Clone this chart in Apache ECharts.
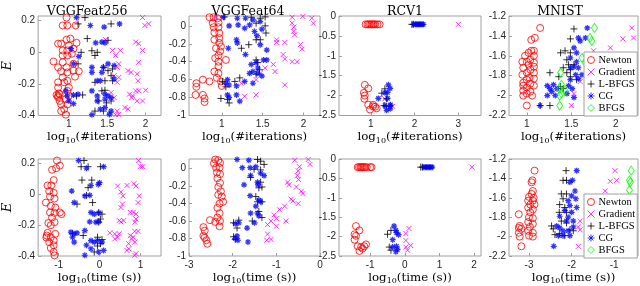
<!DOCTYPE html>
<html><head><meta charset="utf-8">
<script src="https://cdn.jsdelivr.net/npm/echarts@6/dist/echarts.min.js"></script>
<style>html,body{margin:0;padding:0;background:#fff}#c{width:640px;height:286px}</style>
</head><body><div id="c"></div>
<script>
// ---------- data ----------
const seriesNames = ['Newton','Gradient','L-BFGS','CG','BFGS'];
const titles = ['VGGFeat256','VGGFeat64','RCV1','MNIST'];

// panel 1: VGGFeat256, log10(#iterations)
const newton1 = [[0.97,0.22],[0.92,0.17],[0.98,0.17],[1.09,0.17],[0.90,0.055],[0.97,0.08],[1.02,0.087],[0.86,0.055],[1.0,0.044],[1.10,0.06],[0.92,0.012],[0.98,0.012],[1.06,0.023],[0.92,-0.02],[0.98,-0.02],[1.04,-0.009],[0.80,-0.058],[0.92,-0.063],[0.86,-0.095],[0.97,-0.095],[1.06,-0.073],[0.90,-0.12],[0.98,-0.127],[1.06,-0.116],[1.13,-0.12],[0.92,-0.159],[0.98,-0.18],[1.08,-0.154],[0.86,-0.19],[0.94,-0.19],[1.0,-0.223],[0.86,-0.223],[0.88,-0.265],[0.98,-0.244],[0.86,-0.276],[0.88,-0.308],[0.96,-0.297],[1.0,-0.276],[0.90,-0.33],[0.98,-0.33],[0.90,-0.372],[0.96,-0.395],[0.94,-0.36],[0.84,-0.27],[0.86,-0.285],[0.87,-0.26]];
const grad1 = [[1.96,0.22],[1.99,0.17],[2.04,0.18],[1.48,0.08],[1.87,0.065],[1.91,0.055],[1.57,0.012],[1.67,0.012],[1.96,0.012],[1.61,-0.02],[1.65,-0.073],[1.63,-0.095],[1.91,-0.063],[1.77,-0.116],[1.81,-0.127],[1.89,-0.137],[1.59,-0.148],[1.65,-0.159],[1.63,-0.19],[1.90,-0.18],[1.87,-0.244],[2.0,-0.24],[1.91,-0.244],[1.55,-0.255],[1.79,-0.265],[1.83,-0.276],[1.82,-0.287],[1.59,-0.287],[1.89,-0.308],[1.96,-0.308],[1.73,-0.35],[1.77,-0.36],[1.63,-0.372],[1.65,-0.393],[1.61,-0.395]];
const lbfgs1 = [[1.21,0.22],[1.12,0.18],[1.55,0.18],[1.24,0.087],[1.51,0.076],[1.16,0.0],[1.30,0.01],[1.37,0.0],[1.34,-0.02],[1.12,-0.073],[1.45,-0.095],[1.51,-0.116],[1.57,-0.105],[1.55,-0.148],[1.34,-0.19],[1.47,-0.18],[1.57,-0.18],[1.18,-0.27],[1.10,-0.276],[1.43,-0.244],[1.47,-0.24],[1.39,-0.308],[1.34,-0.372],[1.45,-0.372],[1.49,-0.32],[1.55,-0.308]];
const cg1 = [[1.10,0.22],[1.28,0.17],[1.46,0.16],[1.66,0.18],[1.35,0.06],[1.43,0.065],[1.47,0.06],[1.03,0.023],[1.13,-0.026],[1.06,-0.073],[1.30,-0.095],[1.30,-0.127],[1.43,-0.127],[1.45,-0.095],[1.59,-0.084],[1.51,-0.073],[1.37,-0.18],[1.41,-0.18],[1.59,-0.169],[0.96,-0.244],[0.98,-0.276],[1.06,-0.27],[1.12,-0.265],[1.0,-0.308],[1.06,-0.325],[1.30,-0.244],[1.37,-0.276],[1.47,-0.265],[1.51,-0.276],[1.47,-0.297],[1.55,-0.287],[1.37,-0.308],[1.41,-0.36],[1.47,-0.35],[1.55,-0.372],[1.53,-0.393],[1.30,-0.395]];

// panel 2: VGGFeat64, log10(#iterations)
const newton2 = [[0.85,0.096],[0.90,0.096],[0.95,0.085],[0.89,0.03],[0.96,0.037],[0.90,-0.015],[0.96,-0.015],[0.91,-0.074],[0.97,-0.08],[0.97,-0.137],[0.91,-0.155],[0.97,-0.19],[0.99,-0.23],[0.93,-0.25],[0.98,-0.285],[0.96,-0.33],[0.92,-0.36],[1.05,-0.38],[0.96,-0.40],[0.96,-0.45],[0.91,-0.51],[0.96,-0.53],[0.94,-0.58],[0.99,-0.62],[0.77,-0.60],[0.85,-0.62],[0.69,-0.64],[0.69,-0.68],[1.0,-0.67],[0.68,-0.77],[0.77,-0.77],[0.79,-0.81],[0.79,-0.85]];
const grad2 = [[0.93,0.096],[1.86,0.096],[1.99,0.105],[2.10,0.085],[2.12,0.03],[1.86,0.03],[1.88,-0.015],[1.88,-0.063],[1.89,-0.1],[1.67,-0.155],[1.77,-0.185],[1.67,-0.185],[1.96,-0.21],[1.98,-0.26],[1.75,-0.32],[1.77,-0.37],[1.86,-0.4],[1.92,-0.4],[1.63,-0.43],[1.53,-0.47],[1.65,-0.51],[1.47,-0.53],[1.42,-0.60],[1.77,-0.66],[1.24,-0.64],[1.28,-0.785],[1.42,-0.77]];
const lbfgs2 = [[1.03,0.1],[1.36,0.096],[1.47,0.085],[1.53,0.1],[1.42,0.03],[1.53,0],[1.54,-0.08],[1.42,-0.155],[1.47,-0.155],[1.24,-0.25],[1.33,-0.21],[1.42,-0.38],[1.44,-0.41],[1.46,-0.49],[1.16,-0.62],[1.01,-0.62],[1.05,-0.68],[0.99,-0.81],[1.07,-0.82],[1.09,-0.86],[1.42,-0.54],[1.22,-0.58]];
const cg2 = [[1.02,0.096],[1.19,0.085],[1.29,0.085],[1.38,0.067],[1.47,0.048],[1.34,0.01],[1.20,0.01],[1.09,0],[1.28,-0.026],[1.49,-0.037],[1.40,-0.063],[1.43,-0.11],[1.18,-0.155],[1.19,-0.19],[1.47,-0.21],[1.55,-0.27],[1.08,-0.25],[1.29,-0.32],[1.51,-0.38],[1.55,-0.38],[1.42,-0.41],[1.36,-0.43],[1.44,-0.47],[1.38,-0.51],[1.44,-0.53],[1.34,-0.53],[1.49,-0.56],[1.07,-0.60],[1.05,-0.64],[1.09,-0.66],[1.28,-0.62],[1.18,-0.67],[1.38,-0.64],[1.18,-0.77],[1.07,-0.77],[1.09,-0.80],[1.22,-0.84]];

// panel 3: RCV1, log10(#iterations)
const newton3 = [[0.88,-0.21],[0.92,-0.21],[0.95,-0.21],[0.98,-0.21],[1.01,-0.21],[1.04,-0.21],[1.07,-0.21],[1.1,-0.21],[1.15,-0.21],[1.2,-0.21],[0.86,-1.73],[0.94,-1.82],[0.84,-1.93],[0.86,-2.0],[0.85,-2.08],[0.94,-2.23],[1.05,-2.27],[0.98,-2.35],[1.13,-2.32],[1.05,-2.23],[1.1,-2.28]];
const grad3 = [[3.0,-0.21],[1.32,-2.08],[1.5,-2.27],[1.45,-2.3]];
const lbfgs3 = [[1.94,-0.21],[1.97,-0.21],[1.25,-1.94],[1.32,-1.83],[1.36,-2.08],[1.35,-2.27],[1.30,-2.25]];
const cg3 = [[1.98,-0.21],[2.02,-0.21],[2.05,-0.21],[2.08,-0.21],[2.11,-0.21],[2.14,-0.21],[2.17,-0.21],[2.2,-0.21],[1.4,-1.73],[1.44,-1.82],[1.32,-1.93],[1.38,-1.92],[1.17,-2.07],[1.38,-2.07],[1.32,-2.25],[1.44,-2.25],[1.44,-2.33],[1.36,-2.37],[1.45,-2.23]];

// panel 4: MNIST, log10(#iterations)
const newton4 = [[1.15,-1.32],[1.09,-1.42],[1.05,-1.44],[1.05,-1.55],[1.08,-1.55],[1.02,-1.57],[0.98,-1.60],[1.08,-1.60],[1.04,-1.64],[0.95,-1.66],[1.0,-1.66],[1.08,-1.67],[1.02,-1.69],[0.96,-1.72],[1.08,-1.71],[1.04,-1.74],[1.0,-1.77],[1.08,-1.77],[0.95,-1.79],[1.03,-1.82],[1.08,-1.83],[1.0,-1.84],[0.96,-1.87],[1.04,-1.88],[1.08,-1.9],[0.96,-1.9],[1.0,-1.92],[0.96,-1.95],[1.04,-1.96],[1.0,-1.98],[0.96,-2.0],[1.06,-2.0],[1.0,-2.1]];
const grad4 = [[2.18,-1.32],[2.08,-1.43],[2.2,-1.42],[1.94,-1.52],[1.53,-1.98],[1.5,-2.10],[1.6,-1.86],[1.75,-1.55]];
const lbfgs4 = [[1.53,-1.33],[1.49,-1.43],[1.43,-1.55],[1.38,-1.57],[1.49,-1.57],[1.45,-1.64],[1.47,-1.69],[1.41,-1.72],[1.49,-1.74],[1.26,-1.77],[1.36,-1.81],[1.45,-1.77],[1.49,-1.81],[1.38,-1.91],[1.41,-1.93],[1.15,-2.10],[1.26,-2.10],[1.56,-1.84],[1.53,-1.69]];
const cg4 = [[1.68,-1.32],[1.66,-1.42],[1.58,-1.42],[1.6,-1.45],[1.53,-1.52],[1.56,-1.57],[1.49,-1.62],[1.56,-1.66],[1.53,-1.71],[1.49,-1.72],[1.58,-1.72],[1.62,-1.79],[1.55,-1.79],[1.49,-1.84],[1.58,-1.83],[1.47,-1.9],[1.51,-1.93],[1.3,-1.89],[1.26,-1.93],[1.34,-1.93],[1.23,-1.9],[1.28,-1.96],[1.32,-2.0],[1.23,-2.0],[1.45,-1.98],[1.53,-2.02],[1.15,-2.10]];
const bfgs4 = [[1.76,-1.32],[1.71,-1.42],[1.73,-1.45],[1.62,-1.62],[1.66,-1.67],[1.38,-1.77],[1.39,-1.89],[1.37,-1.93],[1.39,-1.98],[1.37,-2.0],[1.43,-1.95],[1.37,-2.10]];

// panel 5: VGGFeat256, log10(time (s))
const newton5 = [[-1.04,0.22],[-0.97,0.187],[-1.06,0.17],[-1.16,0.16],[-1.12,0.093],[-1.18,0.058],[-1.27,0.058],[-1.23,0.022],[-1.12,0.011],[-1.21,-0.014],[-1.10,-0.027],[-1.31,-0.053],[-1.19,-0.074],[-1.08,-0.085],[-1.21,-0.117],[-1.10,-0.12],[-0.97,-0.117],[-0.93,-0.128],[-1.16,-0.15],[-1.10,-0.18],[-1.25,-0.186],[-1.19,-0.2],[-1.27,-0.25],[-1.29,-0.267],[-1.19,-0.278],[-1.12,-0.3],[-1.23,-0.31],[-1.12,-0.33],[-1.19,-0.348],[-1.12,-0.374],[-1.10,-0.396],[-1.08,-0.256],[-1.3,-0.28]];
const grad5 = [[0.95,0.22],[1.05,0.18],[1.0,0.18],[0.44,0.054],[0.67,0.058],[0.84,0.07],[0.89,0.054],[0.52,0.016],[0.57,-0.01],[0.97,-0.01],[0.94,-0.053],[0.56,-0.063],[0.52,-0.085],[0.75,-0.117],[0.82,-0.117],[0.89,-0.128],[0.52,-0.178],[0.48,-0.17],[0.59,-0.17],[0.86,-0.18],[0.89,-0.16],[0.25,-0.25],[0.37,-0.256],[0.48,-0.256],[0.86,-0.24],[0.94,-0.24],[0.75,-0.267],[0.82,-0.278],[0.78,-0.289],[0.37,-0.289],[0.44,-0.278],[0.71,-0.32],[0.71,-0.353],[0.67,-0.364],[0.86,-0.31],[0.89,-0.385],[0.86,-0.396]];
const lbfgs5 = [[-0.38,0.22],[-0.45,0.18],[-0.28,0.18],[0.02,0.18],[-0.43,0.093],[-0.19,0.093],[-0.28,0.044],[-0.32,-0.006],[-0.17,-0.053],[-0.55,-0.063],[-0.02,-0.117],[0.06,-0.128],[0.02,-0.16],[-0.02,-0.18],[-0.40,-0.267],[-0.05,-0.278],[0.06,-0.293],[0.02,-0.32],[-0.13,-0.374],[-0.05,-0.335],[-0.66,-0.256]];
const cg5 = [[-0.51,0.22],[-0.32,0.17],[0.1,0.18],[-0.21,0.058],[-0.03,0.065],[0,0.076],[-0.68,0.022],[-0.24,-0.006],[-0.36,-0.01],[-0.62,-0.053],[-0.21,-0.117],[-0.13,-0.128],[-0.02,-0.12],[-0.24,-0.178],[-0.09,-0.18],[-0.02,-0.178],[-0.70,-0.245],[-0.62,-0.256],[-0.55,-0.25],[-0.66,-0.278],[-0.62,-0.31],[-0.36,-0.235],[-0.21,-0.3],[-0.05,-0.3],[0.06,-0.31],[-0.32,-0.33],[-0.21,-0.353],[0.1,-0.364],[-0.02,-0.374],[-0.36,-0.395],[-0.13,-0.31]];

// panel 6: VGGFeat64, log10(time (s))
const newton6 = [[-2.40,0.104],[-2.33,0.096],[-2.43,0.06],[-2.29,0.067],[-2.38,0.011],[-2.30,0.011],[-2.36,-0.044],[-2.29,-0.063],[-2.35,-0.11],[-2.29,-0.163],[-2.33,-0.21],[-2.27,-0.26],[-2.33,-0.3],[-2.25,-0.32],[-2.22,-0.38],[-2.30,-0.4],[-2.35,-0.45],[-2.30,-0.51],[-2.35,-0.56],[-2.29,-0.6],[-2.40,-0.61],[-2.52,-0.59],[-2.30,-0.66],[-2.67,-0.67],[-2.67,-0.77],[-2.64,-0.79],[-2.60,-0.82],[-2.58,-0.86],[-2.64,-0.71]];
const grad6 = [[-0.58,0.096],[-0.27,0.104],[-0.23,0.048],[-0.47,0.022],[-0.50,-0.026],[-0.52,-0.08],[-0.49,-0.126],[-0.74,-0.155],[-0.71,-0.185],[-0.54,-0.21],[-0.43,-0.26],[-0.39,-0.285],[-0.66,-0.35],[-0.62,-0.37],[-0.50,-0.4],[-0.81,-0.43],[-0.93,-0.47],[-1.05,-0.53],[-1.0,-0.57],[-1.12,-0.6],[-0.78,-0.6],[-1.2,-0.64],[-1.0,-0.66],[-1.2,-0.75],[-1.12,-0.81],[-1.22,-0.82]];
const lbfgs6 = [[-1.43,0.104],[-1.36,0.085],[-1.28,0.048],[-1.51,-0.007],[-1.36,-0.015],[-1.59,-0.1],[-1.36,-0.155],[-1.40,-0.22],[-1.33,-0.21],[-1.47,-0.32],[-1.43,-0.38],[-1.33,-0.38],[-1.40,-0.49],[-1.33,-0.56],[-1.98,-0.62],[-1.86,-0.59],[-1.90,-0.68],[-1.98,-0.78],[-1.94,-0.81],[-1.55,-0.6]];
const cg6 = [[-1.90,0.104],[-1.63,0.096],[-1.78,0.011],[-1.60,0.011],[-1.47,0.022],[-1.36,-0.052],[-1.28,-0.08],[-1.59,-0.08],[-1.74,-0.185],[-1.43,-0.155],[-1.42,-0.185],[-1.60,-0.31],[-1.40,-0.36],[-1.36,-0.38],[-1.47,-0.43],[-1.59,-0.51],[-1.43,-0.51],[-1.40,-0.54],[-1.86,-0.62],[-1.94,-0.63],[-1.67,-0.68],[-1.50,-0.62],[-1.90,-0.77],[-1.94,-0.80],[-1.65,-0.84],[-1.88,-0.82]];

// panel 7: RCV1, log10(time (s))
const newton7 = [[-1.36,-0.21],[-1.32,-0.21],[-1.28,-0.21],[-1.25,-0.21],[-1.22,-0.21],[-1.18,-0.21],[-1.15,-0.21],[-1.1,-0.21],[-1.0,-0.21],[-0.96,-0.21],[-1.41,-1.73],[-1.31,-1.84],[-1.45,-1.94],[-1.41,-1.98],[-1.45,-2.08],[-1.36,-2.25],[-1.26,-2.27],[-1.31,-2.37],[-1.17,-2.25],[-1.22,-2.31],[-1.12,-2.2]];
const grad7 = [[1.94,-0.21],[0.03,-1.92],[0.12,-1.79],[0.03,-2.1],[0.17,-2.23],[0.03,-2.27],[0.08,-2.35]];
const lbfgs7 = [[0.46,-0.21],[0.51,-0.21],[-0.50,-1.94],[-0.40,-1.84],[-0.45,-2.27],[-0.40,-2.35]];
const cg7 = [[0.55,-0.21],[0.59,-0.21],[0.63,-0.21],[0.67,-0.21],[0.71,-0.21],[0.75,-0.21],[0.79,-0.21],[-0.31,-1.73],[-0.26,-1.84],[-0.35,-2.08],[-0.24,-1.90],[-0.18,-1.95],[-0.35,-2.27],[-0.24,-2.25],[-0.21,-2.33],[-0.26,-2.39]];

// panel 8: MNIST, log10(time (s))
const newton8 = [[-2.87,-1.32],[-2.92,-1.42],[-2.94,-1.44],[-2.91,-1.53],[-2.94,-1.56],[-3.0,-1.59],[-2.89,-1.60],[-3.02,-1.63],[-2.91,-1.63],[-2.97,-1.67],[-2.87,-1.67],[-3.02,-1.70],[-2.91,-1.72],[-2.97,-1.75],[-3.0,-1.8],[-2.91,-1.81],[-3.02,-1.85],[-2.91,-1.87],[-2.98,-1.90],[-3.02,-1.94],[-2.91,-1.96],[-3.0,-1.99],[-2.91,-2.0],[-3.24,-1.77],[-3.22,-1.89],[-3.24,-1.91],[-3.18,-1.92],[-3.24,-1.96],[-3.22,-2.0],[-3.18,-2.1]];
const grad8 = [[-0.98,-1.32],[-1.09,-1.43],[-0.94,-1.42],[-1.21,-1.53],[-1.80,-1.84],[-1.84,-1.9],[-1.80,-1.93],[-1.84,-2.1]];
const lbfgs8 = [[-2.13,-1.32],[-2.20,-1.42],[-2.12,-1.42],[-2.24,-1.56],[-2.12,-1.56],[-2.20,-1.61],[-2.28,-1.67],[-2.16,-1.70],[-2.29,-1.75],[-2.12,-1.75],[-2.47,-1.89],[-2.43,-1.92],[-2.39,-1.98],[-2.28,-1.97],[-2.16,-1.99],[-2.04,-1.93],[-1.96,-1.94],[-2.12,-1.86],[-2.24,-1.84]];
const cg8 = [[-1.88,-1.32],[-1.98,-1.42],[-2.04,-1.44],[-1.92,-1.53],[-2.0,-1.58],[-2.08,-1.63],[-1.90,-1.61],[-2.04,-1.68],[-1.88,-1.70],[-2.16,-1.73],[-2.0,-1.75],[-2.28,-1.79],[-2.08,-1.80],[-2.12,-1.84],[-2.35,-1.89],[-2.28,-1.91],[-2.20,-1.94],[-2.08,-1.94],[-2.20,-1.99],[-2.04,-1.99],[-1.96,-1.9],[-1.96,-1.84],[-2.42,-2.1],[-2.31,-1.99]];
const bfgs8 = [[-0.60,-1.32],[-0.64,-1.42],[-0.62,-1.44],[-0.64,-1.52]];

// axis ranges and tick labels
const xRanges = [[0.6,2.2],[0.6,2.2],[0.27,3.52],[0.8,2.25],[-1.5,1.5],[-3,0],[-1.9,2.2],[-3.47,-0.44]];
const yRanges = [[-0.4,0.23],[-1,0.11],[-2.5,0],[-2.2,-1.2],[-0.4,0.23],[-1,0.11],[-2.5,0],[-2.2,-1.2]];
const xTicks = [[1,1.5,2],[1,1.5,2],[1,2,3],[1,1.5,2],[-1,0,1],[-3,-2,-1,0],[-1,0,1,2],[-3,-2,-1]];
const yTicks = [[0.2,0,-0.2,-0.4],[0,-0.2,-0.4,-0.6,-0.8,-1],[0,-0.5,-1,-1.5,-2,-2.5],[-1.2,-1.4,-1.6,-1.8,-2,-2.2],
                [0.2,0,-0.2,-0.4],[0,-0.2,-0.4,-0.6,-0.8,-1],[0,-0.5,-1,-1.5,-2,-2.5],[-1.2,-1.4,-1.6,-1.8,-2,-2.2]];
const panelData = [
  [newton1,grad1,lbfgs1,cg1,null],[newton2,grad2,lbfgs2,cg2,null],[newton3,grad3,lbfgs3,cg3,null],[newton4,grad4,lbfgs4,cg4,bfgs4],
  [newton5,grad5,lbfgs5,cg5,null],[newton6,grad6,lbfgs6,cg6,null],[newton7,grad7,lbfgs7,cg7,null],[newton8,grad8,lbfgs8,cg8,bfgs8]
];

// ---------- layout / style ----------
const rects = [[29,16,132,99.5],[189,16,131,99.5],[339,16,142,99.5],[509,16,129,99.5],
               [29,159,132,99],[189,159,131,99],[339,159,142,99],[509,159,129,99]];
const titleCenters = [82,243,400,555];
const SERIF = 'DejaVu Serif';
const SANS = 'Liberation Sans';
const SYM = {
  'Newton':'circle',
  'Gradient':'path://M0,0L10,10M10,0L0,10',
  'L-BFGS':'path://M5,0L5,10M0,5L10,5',
  'CG':'path://M5,0L5,10M0,5L10,5M1.5,1.5L8.5,8.5M8.5,1.5L1.5,8.5',
  'BFGS':'diamond'
};
const COL = {'Newton':'#ff0000','Gradient':'#ff00ff','L-BFGS':'#000000','CG':'#0000ff','BFGS':'#00ff00'};
const SIZE = {'Newton':7,'Gradient':5,'L-BFGS':7,'CG':6,'BFGS':[6,9]};
const WIDTH = {'Newton':1,'Gradient':1,'L-BFGS':1,'CG':1.2,'BFGS':1};
const fmt = v => String(Math.round(v*100)/100);
const xName = i => i < 4 ? '{a|log}{s|10}{a|(#iterations)}' : '{a|log}{s|10}{a|(time (s))}';
const rich = {a:{fontFamily:SERIF, fontSize:11.8, color:'#000'}, s:{fontFamily:SERIF, fontSize:8, color:'#000', padding:[7,0,0,0]}};

const grid = [], xAxis = [], yAxis = [], series = [];
for (let i = 0; i < 8; i++) {
  const r = rects[i];
  grid.push({left:r[0], top:r[1], width:r[2], height:r[3], show:true, borderColor:'#a0a0a0', borderWidth:1, backgroundColor:'#fff', containLabel:false});
  xAxis.push({gridIndex:i, type:'value', min:xRanges[i][0], max:xRanges[i][1],
    axisLine:{show:false, onZero:false}, splitLine:{show:false},
    axisTick:{show:true, inside:true, length:3, customValues:xTicks[i], lineStyle:{color:'#a0a0a0'}},
    axisLabel:{customValues:xTicks[i], formatter:fmt, fontFamily:SANS, fontSize:10, color:'#262626', margin:4},
    name:xName(i), nameLocation:'middle', nameGap:14, nameTextStyle:{rich:rich}});
  const yax = {gridIndex:i, type:'value', min:yRanges[i][0], max:yRanges[i][1],
    axisLine:{show:false, onZero:false}, splitLine:{show:false},
    axisTick:{show:true, inside:true, length:3, customValues:yTicks[i], lineStyle:{color:'#a0a0a0'}},
    axisLabel:{customValues:yTicks[i], formatter:fmt, fontFamily:SANS, fontSize:10, color:'#262626', margin:3}};
  if (i === 0 || i === 4) {
    Object.assign(yax, {name:'E', nameLocation:'middle', nameRotate:90, nameGap:19,
      nameTextStyle:{fontFamily:SERIF, fontStyle:'italic', fontSize:13, color:'#000'}});
  }
  yAxis.push(yax);
  panelData[i].forEach((d, k) => {
    if (!d) return;
    const name = seriesNames[k];
    series.push({type:'scatter', name:name, xAxisIndex:i, yAxisIndex:i, data:d, silent:true, animation:false, clip:true,
      symbol:SYM[name], symbolSize:SIZE[name],
      itemStyle:{color:'rgba(0,0,0,0)', borderColor:COL[name], borderWidth:WIDTH[name]}});
  });
}
const legendItems = seriesNames.map(n => ({name:n, icon:SYM[n],
  itemStyle:{color:'rgba(0,0,0,0)', borderColor:COL[n], borderWidth:1}}));
const legendBase = {orient:'vertical', left:584, data:legendItems, itemWidth:7, itemHeight:7, itemGap:0,
  padding:[2,2,2,3], borderColor:'#a0a0a0', borderWidth:1, backgroundColor:'#fff', selectedMode:false,
  itemStyle:{borderWidth:1},
  textStyle:{fontFamily:'Liberation Serif', fontSize:10.5, color:'#000', lineHeight:12, padding:[0,0,0,-1]}};
const option = {
  animation:false,
  backgroundColor:'#fff',
  title: titles.map((t, i) => ({text:t, left:titleCenters[i], top:0, textAlign:'center',
    textStyle:{fontFamily:SERIF, fontSize:12.5, fontWeight:'normal', color:'#000'}})),
  legend:[Object.assign({top:52}, legendBase), Object.assign({top:194}, legendBase)],
  grid, xAxis, yAxis, series
};
const chart = echarts.init(document.getElementById('c'), null, {renderer:'canvas'});
chart.setOption(option);
</script></body></html>
